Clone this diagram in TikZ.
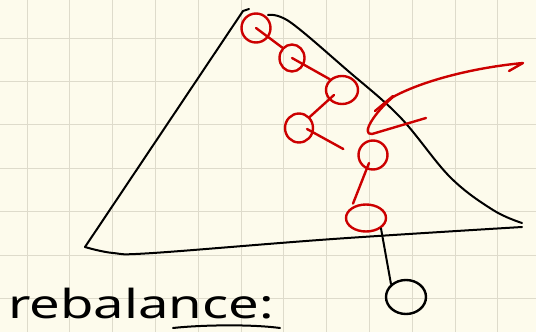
\documentclass[tikz,border=0pt]{standalone}
\usepackage{fontspec}
\setmainfont{Noto Sans}
\usetikzlibrary{shapes.geometric,calc}
\definecolor{paper}{HTML}{FDFBEC}
\definecolor{gridc}{HTML}{DEDBCB}
\definecolor{pen}{HTML}{CC0000}
\tikzset{
  gridline/.style={gridc, line width=1pt},
  ink/.style={black, line width=2pt, line cap=round, line join=round},
  redink/.style={pen, line width=2.4pt, line cap=round, line join=round},
  rnode/.style={ellipse, draw=pen, line width=2.4pt, inner sep=0pt},
  bnode/.style={ellipse, draw=black, line width=2.4pt, inner sep=0pt},
}
\begin{document}
\begin{tikzpicture}[x=1pt,y=-1pt]
\useasboundingbox (0,0) rectangle (536,332);
\fill[paper] (0,0) rectangle (536,332);
\foreach \i in {0,...,11} \draw[gridline] ({27+42.8*\i},0) -- ({27+42.8*\i},332);
\foreach \j in {0,...,6} \draw[gridline] (0,{38+43.4*\j}) -- (536,{38+43.4*\j});
% black tree outline
\draw[ink] (85,247) -- (243,11) -- (249,9);
\draw[ink] plot[smooth, tension=0.6] coordinates {(268,15) (290,22) (347,70) (400,117) (450,177) (493,210) (522,223)};
\draw[ink] plot[smooth, tension=0.6] coordinates {(85,247) (113,253) (153,253) (333,239) (522,227)};
% red nodes
\node[rnode, minimum width=29pt, minimum height=29pt] (n1) at (256,28) {};
\node[rnode, minimum width=25pt, minimum height=27pt] (n2) at (292,58) {};
\node[rnode, minimum width=32pt, minimum height=28pt] (n3) at (342,90) {};
\node[rnode, minimum width=28pt, minimum height=29pt] (n4) at (299,128) {};
\node[rnode, minimum width=29pt, minimum height=29pt] (n5) at (373,155) {};
\node[rnode, minimum width=40pt, minimum height=27pt] (n6) at (366,218) {};
\draw[redink] (n1.center) -- (n2.north west);
\draw[redink] (n2.center) -- (n3.north west);
\draw[redink] ($(n3.center)+(-8,5)$) -- (n4.north east);
\draw[redink] ($(n4.center)+(8,1)$) -- ($(n5.west)+(-14,-6)$);
\draw[redink] ($(n5.center)+(-4,8)$) -- ($(n6.north west)+(2,-4)$);
% black node
\node[bnode, minimum width=40pt, minimum height=34pt] (b) at (406,297) {};
\draw[ink] (n6.south east) -- (b.north west);
% red arrow
\draw[redink] (509,71) -- (523,63) .. controls (470,68) and (420,82) .. (393,97)
  .. controls (375,112) and (360,135) .. (372,134) -- (426,118);
\draw[redink] (375,111) -- (393,96);
% label
\node[anchor=base west, inner sep=0pt, text depth=0pt] (t) at (8,318) {\scalebox{1.36}[1]{\fontsize{40}{40}\selectfont rebalance:}};
\draw[ink] (173,328) .. controls (200,325) and (250,324) .. (280,328);
\end{tikzpicture}
\end{document}
